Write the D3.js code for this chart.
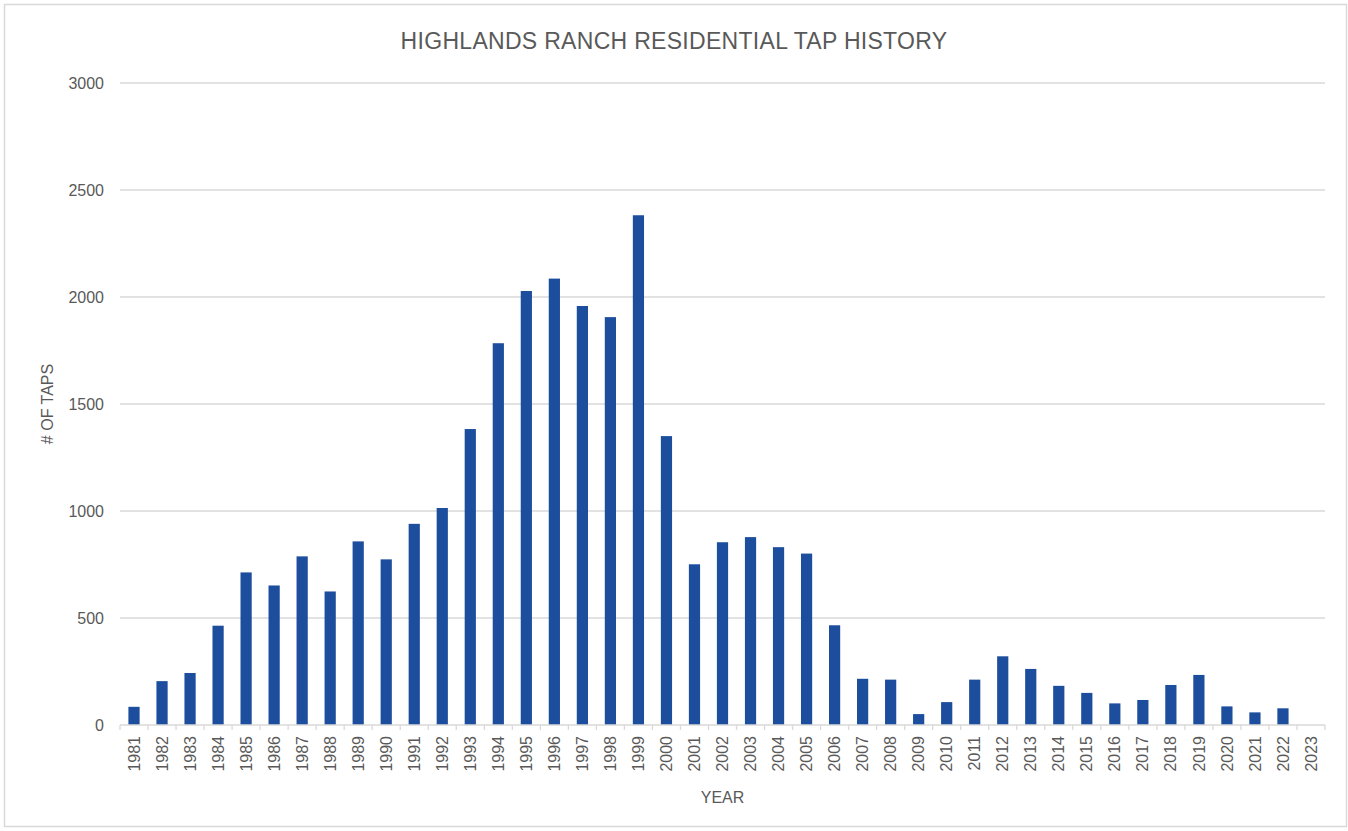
<!DOCTYPE html>
<html>
<head>
    <meta charset="utf-8">
    <title>Highlands Ranch Residential Tap History</title>
    <script src="https://cdnjs.cloudflare.com/ajax/libs/d3/7.8.5/d3.min.js"></script>
    <style>
        body { margin: 0; background: #fff; }
        text { font-family: "Liberation Sans", Arial, sans-serif; fill: #595959; }
    </style>
</head>
<body>
<div id="chart"></div>
<script>
    // data
    var years = ["1981","1982","1983","1984","1985","1986","1987","1988","1989","1990",
                 "1991","1992","1993","1994","1995","1996","1997","1998","1999","2000",
                 "2001","2002","2003","2004","2005","2006","2007","2008","2009","2010",
                 "2011","2012","2013","2014","2015","2016","2017","2018","2019","2020",
                 "2021","2022","2023"];
    var taps = [85, 205, 243, 464, 713, 652, 788, 624, 858, 774,
                940, 1014, 1383, 1784, 2028, 2086, 1958, 1906, 2382, 1350,
                751, 854, 878, 831, 801, 466, 216, 212, 51, 107,
                212, 321, 262, 183, 150, 101, 117, 187, 234, 87,
                59, 78, 0];
    var yTicks = [0, 500, 1000, 1500, 2000, 2500, 3000];

    var width = 1348,
        height = 831,
        margin = {top: 83, right: 23, bottom: 106, left: 120};

    var svg = d3.select("#chart").append("svg")
        .attr("width", width)
        .attr("height", height);

    // chart frame
    svg.append("rect")
        .attr("x", 4.5).attr("y", 4.5)
        .attr("width", width - 6).attr("height", height - 9)
        .attr("fill", "#fff")
        .attr("stroke", "#d9d9d9")
        .attr("stroke-width", 1.5);

    var x = d3.scaleBand()
        .domain(years)
        .range([margin.left, width - margin.right])
        .paddingInner(0.6)
        .paddingOuter(0.3);

    var y = d3.scaleLinear()
        .domain([0, 3000])
        .range([height - margin.bottom, margin.top]);

    // gridlines
    svg.append("g")
        .selectAll("line")
        .data(yTicks.filter(function(d) { return d > 0; }))
        .enter().append("line")
        .attr("x1", margin.left)
        .attr("x2", width - margin.right)
        .attr("y1", function(d) { return y(d); })
        .attr("y2", function(d) { return y(d); })
        .attr("stroke", "#d9d9d9")
        .attr("stroke-width", 1.3);

    // y tick labels
    svg.append("g")
        .selectAll("text")
        .data(yTicks)
        .enter().append("text")
        .attr("x", margin.left - 16)
        .attr("y", function(d) { return y(d); })
        .attr("dy", "0.35em")
        .attr("text-anchor", "end")
        .style("font-size", "16px")
        .text(function(d) { return d; });

    // bars
    svg.append("g")
        .selectAll("rect")
        .data(taps)
        .enter().append("rect")
        .attr("x", function(d, i) { return x(years[i]); })
        .attr("width", x.bandwidth())
        .attr("y", function(d) { return y(d); })
        .attr("height", function(d) { return y(0) - y(d); })
        .attr("fill", "#1c4e9d");

    // x axis line and ticks between categories
    var base = y(0);
    svg.append("line")
        .attr("x1", margin.left).attr("x2", width - margin.right)
        .attr("y1", base).attr("y2", base)
        .attr("stroke", "#d9d9d9").attr("stroke-width", 1.3);

    var step = x.step();
    svg.append("g")
        .selectAll("line")
        .data(d3.range(years.length + 1))
        .enter().append("line")
        .attr("x1", function(i) { return margin.left + i * step; })
        .attr("x2", function(i) { return margin.left + i * step; })
        .attr("y1", base).attr("y2", base + 5)
        .attr("stroke", "#d9d9d9").attr("stroke-width", 1.3);

    // rotated year labels
    svg.append("g")
        .selectAll("text")
        .data(years)
        .enter().append("text")
        .attr("transform", function(d) {
            return "translate(" + (x(d) + x.bandwidth() / 2) + "," + (base + 11) + ") rotate(-90)";
        })
        .attr("dy", "0.35em")
        .attr("text-anchor", "end")
        .style("font-size", "16px")
        .text(function(d) { return d; });

    // titles
    svg.append("text")
        .attr("x", width / 2)
        .attr("y", 49)
        .attr("text-anchor", "middle")
        .style("font-size", "23px")
        .style("letter-spacing", "0.3px")
        .text("HIGHLANDS RANCH RESIDENTIAL TAP HISTORY");

    svg.append("text")
        .attr("x", (margin.left + width - margin.right) / 2)
        .attr("y", 803)
        .attr("text-anchor", "middle")
        .style("font-size", "16px")
        .text("YEAR");

    svg.append("text")
        .attr("transform", "translate(53," + y(1500) + ") rotate(-90)")
        .attr("text-anchor", "middle")
        .style("font-size", "16px")
        .text("# OF TAPS");
</script>
</body>
</html>
